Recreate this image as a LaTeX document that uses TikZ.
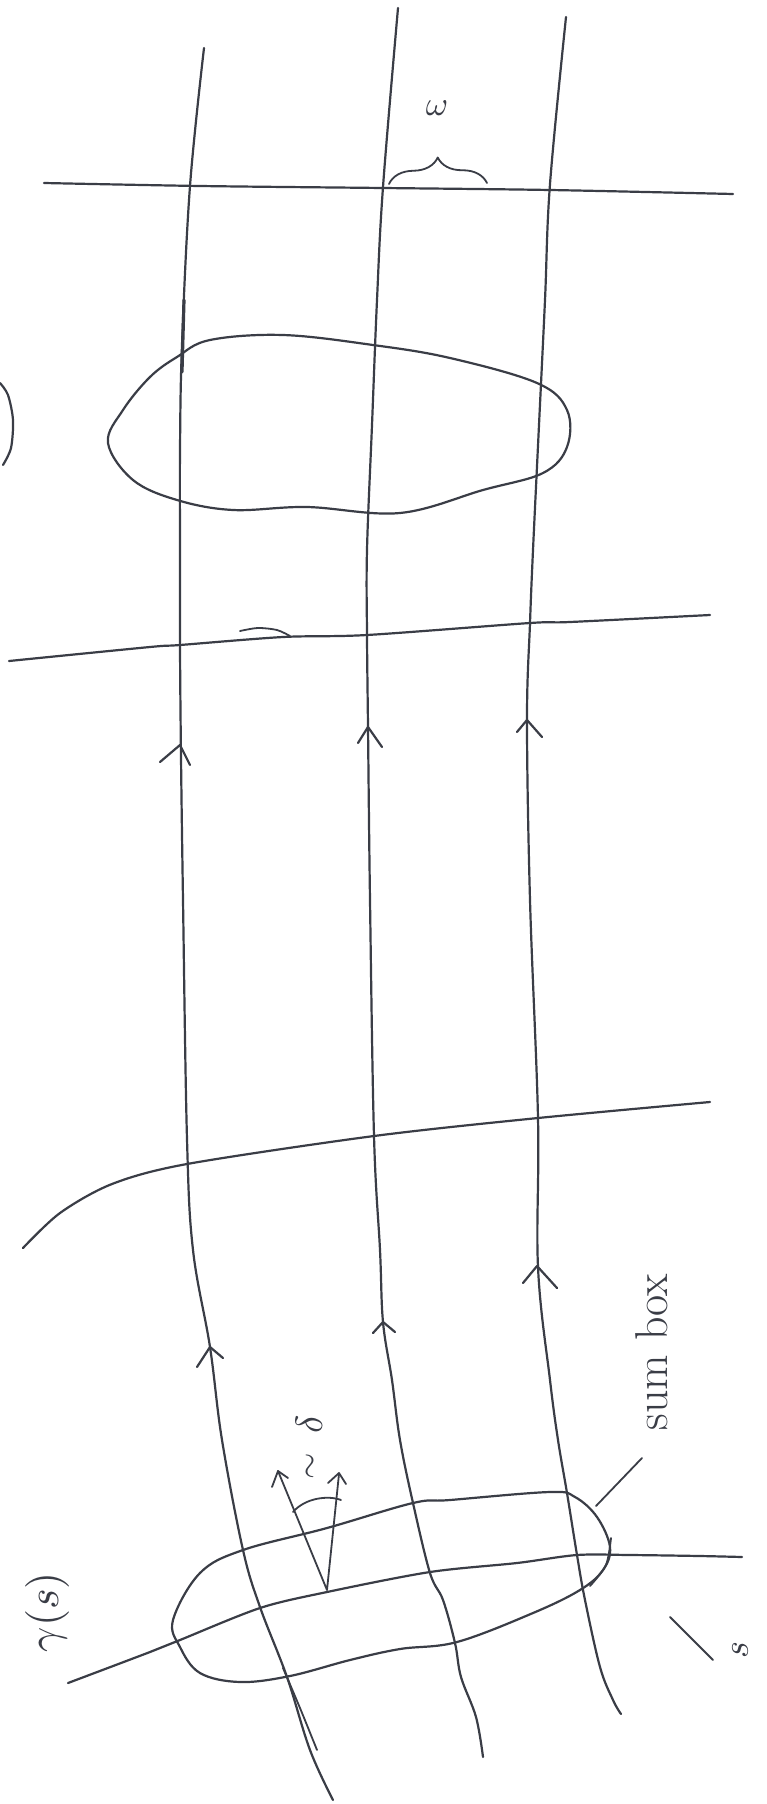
\documentclass[tikz,border=0pt]{standalone}
\usepackage{graphicx}
\usetikzlibrary{decorations.pathreplacing}
\definecolor{ink}{HTML}{3A3D46}
\begin{document}
\begin{tikzpicture}[x=1pt,y=-1pt,
  pen/.style={draw=ink,line width=2.2pt,line cap=round,line join=round},
  thinpen/.style={draw=ink,line width=1.8pt,line cap=round,line join=round},
  lbl/.style={text=ink,inner sep=0pt}]
\useasboundingbox (0,0) rectangle (767,1804);
\fill[white] (0,0) rectangle (767,1804);
% vertical world lines
\draw[pen] plot[smooth,tension=0.6] coordinates {(204,48) (190,186) (182,345) (180,450) (180,550) (180,645) (181,757) (183,900) (187,1139) (193,1250) (210,1347) (222,1440) (243,1550) (260,1607) (287,1677) (310,1750) (333,1800)};
\draw[thinpen] plot[smooth] coordinates {(283,1668) (300,1708) (317,1750)};
\draw[pen,line width=3.2pt] (184,300) -- (182,372);
\draw[pen] plot[smooth,tension=0.6] coordinates {(398,8) (383,187) (377,300) (372,425) (367,550) (367,635) (368,727) (370,900) (374,1136) (380,1250) (383,1322) (392,1380) (400,1440) (413,1503) (430,1573) (443,1600) (455,1643) (461,1677) (476,1717) (483,1757)};
\draw[pen] plot[smooth,tension=0.6] coordinates {(566,17) (550,184) (545,300) (539,425) (533,550) (530,623) (527,720) (530,900) (538,1118) (538,1267) (550,1380) (558,1440) (567,1493) (577,1555) (585,1600) (600,1667) (613,1700) (621,1714)};
% horizontal slices
\draw[pen] plot[smooth] coordinates {(44,183) (200,186) (383,188) (550,190) (733,194)};
\draw[pen] plot[smooth] coordinates {(9,661) (150,647) (180,645) (283,637) (367,635) (530,623) (570,622) (710,615)};
\draw[thinpen] plot[smooth] coordinates {(240,631) (258,628) (277,630) (290,636)};
\draw[pen] plot[smooth] coordinates {(23,1248) (60,1213) (112,1184) (187,1164) (374,1136) (538,1118) (710,1102)};
\draw[pen] plot[smooth] coordinates {(68,1683) (150,1652) (180,1640) (260,1608) (327,1592) (430,1572) (517,1563) (577,1555) (630,1555) (700,1556) (742,1557)};
% top blob
\draw[pen] plot[smooth cycle,tension=0.6] coordinates {(108,443) (123,410) (150,377) (177,357) (210,340) (283,335) (373,345) (450,358) (537,383) (567,410) (567,447) (543,473) (483,490) (400,513) (307,507) (233,510) (177,500) (133,480)};
% partial blob at left edge
\draw[pen] plot[smooth] coordinates {(0,383) (8,395) (13,420) (11,448) (3,465)};
% sum box
\draw[pen] plot[smooth cycle,tension=0.6] coordinates {(173,1620) (200,1573) (243,1550) (327,1528) (413,1503) (450,1500) (550,1492) (575,1497) (597,1517) (610,1547) (603,1570) (580,1590) (533,1613) (457,1642) (400,1649) (350,1660) (290,1676) (240,1682) (200,1673) (180,1647)};
\draw[thinpen] plot[smooth] coordinates {(611,1538) (606,1565) (590,1586)};
\draw[thinpen] (596,1506) -- (642,1458);
\draw[thinpen] (670,1617) -- (713,1660);
% arrowheads on world lines
\draw[pen] (160,762) -- (180,745) -- (190,765);
\draw[pen] (358,743) -- (368,727) -- (382,747);
\draw[pen] (517,732) -- (527,720) -- (542,737);
\draw[pen] (197,1367) -- (210,1347) -- (223,1358);
\draw[pen] (373,1333) -- (383,1322) -- (395,1332);
\draw[pen] (523,1283) -- (537,1266) -- (557,1288);
% cone
\draw[thinpen] (278,1471) -- (327,1590) -- (339,1474);
\draw[thinpen] (272,1487) -- (278,1471) -- (288,1478);
\draw[thinpen] (328,1483) -- (339,1473) -- (346,1484);
\draw[thinpen] (293,1512) .. controls (305,1498) and (328,1495) .. (341,1500);
% brace
\draw[thinpen,decorate,decoration={brace,amplitude=26pt}] (389,184) -- (487,183);
% labels
\node[lbl] (omega) at (437,108) {\scalebox{3.4}{$\omega$}};
\node[lbl,rotate=90] (gamma) at (47,1612) {\scalebox{4.4}{$\gamma(s)$}};
\node[lbl,font=\fontsize{46}{52}\selectfont,rotate=90] (sumbox) at (652,1352) {sum box};
\node[lbl,rotate=90] (s) at (740,1650) {\scalebox{3.6}{$s$}};
\node[lbl,rotate=90] (delta) at (309,1424) {\scalebox{3.8}{$\delta$}};
\node[lbl,rotate=90] (tilde) at (312,1466) {\scalebox{3.4}{$\sim$}};
\end{tikzpicture}
\end{document}
